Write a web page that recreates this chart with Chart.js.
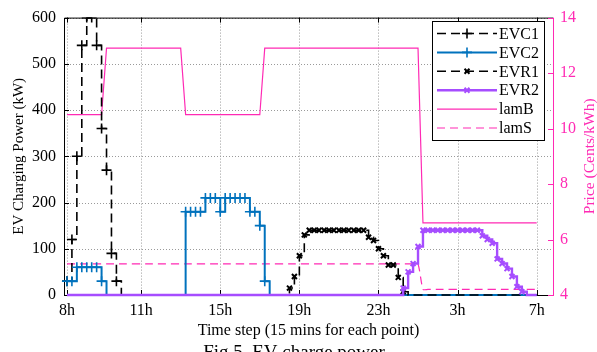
<!DOCTYPE html>
<html>
<head>
<meta charset="utf-8">
<script src="https://cdn.jsdelivr.net/npm/chart.js@4.4.1/dist/chart.umd.min.js"></script>
<style>
    html, body { margin: 0; padding: 0; background: #fff; }
    canvas { display: block; }
</style>
</head>
<body>
<canvas id="chart-ev" width="597" height="352"></canvas>
<script>
// time step index (15 mins each), 1 = 8h
const steps = Array.from({ length: 96 }, (_, i) => i + 1);
const tickSteps = [1, 16, 32, 48, 64, 80, 96];
const tickLabels = ["8h", "11h", "15h", "19h", "23h", "3h", "7h"];

// EV charging power (kW)
const evc1 = [
    30, 120, 300, 540, 600, 600, 540, 360, 270, 90, 30, 0, 0, 0, 0, 0,
    0, 0, 0, 0, 0, 0, 0, 0, 0, 0, 0, 0, 0, 0, 0, 0,
    0, 0, 0, 0, 0, 0, 0, 0, 0, 0, 0, 0, 0, 0, 0, 0,
    0, 0, 0, 0, 0, 0, 0, 0, 0, 0, 0, 0, 0, 0, 0, 0,
    0, 0, 0, 0, 0, 0, 0, 0, 0, 0, 0, 0, 0, 0, 0, 0,
    0, 0, 0, 0, 0, 0, 0, 0, 0, 0, 0, 0, 0, 0, 0, 0,
];
const evc2 = [
    30, 30, 60, 60, 60, 60, 60, 30, 0, 0, 0, 0, 0, 0, 0, 0,
    0, 0, 0, 0, 0, 0, 0, 0, 180, 180, 180, 180, 210, 210, 210, 180,
    210, 210, 210, 210, 210, 180, 180, 150, 30, 0, 0, 0, 0, 0, 0, 0,
    0, 0, 0, 0, 0, 0, 0, 0, 0, 0, 0, 0, 0, 0, 0, 0,
    0, 0, 0, 0, 0, 0, 0, 0, 0, 0, 0, 0, 0, 0, 0, 0,
    0, 0, 0, 0, 0, 0, 0, 0, 0, 0, 0, 0, 0, 0, 0, 0,
];
const evr1 = [
    0, 0, 0, 0, 0, 0, 0, 0, 0, 0, 0, 0, 0, 0, 0, 0,
    0, 0, 0, 0, 0, 0, 0, 0, 0, 0, 0, 0, 0, 0, 0, 0,
    0, 0, 0, 0, 0, 0, 0, 0, 0, 0, 0, 0, 0, 15, 40, 85,
    130, 140, 140, 140, 140, 140, 140, 140, 140, 140, 140, 140, 140, 125, 118, 100,
    85, 65, 65, 38, 7, 0, 0, 0, 0, 0, 0, 0, 0, 0, 0, 0,
    0, 0, 0, 0, 0, 0, 0, 0, 0, 0, 0, 0, 0, 0, 0, 0,
];
const evr2 = [
    0, 0, 0, 0, 0, 0, 0, 0, 0, 0, 0, 0, 0, 0, 0, 0,
    0, 0, 0, 0, 0, 0, 0, 0, 0, 0, 0, 0, 0, 0, 0, 0,
    0, 0, 0, 0, 0, 0, 0, 0, 0, 0, 0, 0, 0, 0, 0, 0,
    0, 0, 0, 0, 0, 0, 0, 0, 0, 0, 0, 0, 0, 0, 0, 0,
    0, 0, 0, 0, 15, 50, 68, 105, 140, 140, 140, 140, 140, 140, 140, 140,
    140, 140, 140, 140, 128, 120, 112, 78, 68, 57, 40, 18, 7, 0, 0, 0,
];

// prices (Cents/kWh)
const lamB = [
    10.5, 10.5, 10.5, 10.5, 10.5, 10.5, 10.5, 10.5, 12.9, 12.9, 12.9, 12.9, 12.9, 12.9, 12.9, 12.9,
    12.9, 12.9, 12.9, 12.9, 12.9, 12.9, 12.9, 12.9, 10.5, 10.5, 10.5, 10.5, 10.5, 10.5, 10.5, 10.5,
    10.5, 10.5, 10.5, 10.5, 10.5, 10.5, 10.5, 10.5, 12.9, 12.9, 12.9, 12.9, 12.9, 12.9, 12.9, 12.9,
    12.9, 12.9, 12.9, 12.9, 12.9, 12.9, 12.9, 12.9, 12.9, 12.9, 12.9, 12.9, 12.9, 12.9, 12.9, 12.9,
    12.9, 12.9, 12.9, 12.9, 12.9, 12.9, 12.9, 12.9, 6.6, 6.6, 6.6, 6.6, 6.6, 6.6, 6.6, 6.6,
    6.6, 6.6, 6.6, 6.6, 6.6, 6.6, 6.6, 6.6, 6.6, 6.6, 6.6, 6.6, 6.6, 6.6, 6.6, 6.6,
];
const lamS = [
    5.12, 5.12, 5.12, 5.12, 5.12, 5.12, 5.12, 5.12, 5.12, 5.12, 5.12, 5.12, 5.12, 5.12, 5.12, 5.12,
    5.12, 5.12, 5.12, 5.12, 5.12, 5.12, 5.12, 5.12, 5.12, 5.12, 5.12, 5.12, 5.12, 5.12, 5.12, 5.12,
    5.12, 5.12, 5.12, 5.12, 5.12, 5.12, 5.12, 5.12, 5.12, 5.12, 5.12, 5.12, 5.12, 5.12, 5.12, 5.12,
    5.12, 5.12, 5.12, 5.12, 5.12, 5.12, 5.12, 5.12, 5.12, 5.12, 5.12, 5.12, 5.12, 5.12, 5.12, 5.12,
    5.12, 5.12, 5.12, 5.12, 5.12, 5.12, 5.12, 5.12, 4.2, 4.2, 4.2, 4.2, 4.2, 4.2, 4.2, 4.2,
    4.2, 4.2, 4.2, 4.2, 4.2, 4.2, 4.2, 4.2, 4.2, 4.2, 4.2, 4.2, 4.2, 4.2, 4.2, 4.2,
];

const PINK = "#ff2ab4";
const BLUE = "#0072bd";
const PURPLE = "#a64dff";
const FONT = "Liberation Serif";

Chart.defaults.font.family = FONT;
Chart.defaults.font.size = 16;
Chart.defaults.color = "#000";

const toPoints = (values) => values.map((v, i) => ({ x: steps[i], y: v }));
// no markers on the zero baseline
const markerOnly = (r) => (c) => (c.raw && c.raw.y !== 0 ? r : 0);
const clipBox = { left: 4, top: 0, right: 4, bottom: 4 };
const noGrid = { display: false, drawTicks: false };

const frame = {
    id: "frame",
    beforeDatasetsDraw(chart) {
        const { ctx, chartArea: a, scales } = chart;
        const { x, y, y2 } = scales;
        ctx.save();
        // dotted grid
        ctx.strokeStyle = "#9a9a9a";
        ctx.lineWidth = 1;
        ctx.setLineDash([1, 2]);
        ctx.beginPath();
        tickSteps.forEach((v) => {
            const px = Math.round(x.getPixelForValue(v)) + 0.5;
            ctx.moveTo(px, a.top);
            ctx.lineTo(px, a.bottom);
        });
        y.ticks.forEach((t) => {
            const py = Math.round(y.getPixelForValue(t.value)) + 0.5;
            ctx.moveTo(a.left, py);
            ctx.lineTo(a.right, py);
        });
        ctx.stroke();
        ctx.setLineDash([]);

        // box
        ctx.strokeStyle = "#000";
        ctx.beginPath();
        ctx.moveTo(a.right, a.top + 0.5);
        ctx.lineTo(a.left + 0.5, a.top + 0.5);
        ctx.lineTo(a.left + 0.5, a.bottom + 0.5);
        ctx.lineTo(a.right, a.bottom + 0.5);
        // inward ticks
        y.ticks.forEach((t) => {
            const py = Math.round(y.getPixelForValue(t.value)) + 0.5;
            ctx.moveTo(a.left, py);
            ctx.lineTo(a.left + 5, py);
        });
        tickSteps.forEach((v) => {
            const px = Math.round(x.getPixelForValue(v)) + 0.5;
            ctx.moveTo(px, a.bottom);
            ctx.lineTo(px, a.bottom - 5);
            ctx.moveTo(px, a.top);
            ctx.lineTo(px, a.top + 5);
        });
        ctx.stroke();

        ctx.strokeStyle = PINK;
        ctx.beginPath();
        ctx.moveTo(a.right + 0.5, a.top);
        ctx.lineTo(a.right + 0.5, a.bottom + 1);
        y2.ticks.forEach((t) => {
            const py = Math.round(y2.getPixelForValue(t.value)) + 0.5;
            ctx.moveTo(a.right, py);
            ctx.lineTo(a.right - 5, py);
        });
        ctx.stroke();
        ctx.restore();
    },
    afterDraw(chart) {
        const { ctx, chartArea: a } = chart;
        ctx.save();
        ctx.textAlign = "center";
        ctx.textBaseline = "middle";

        ctx.font = "15px " + FONT;
        ctx.fillStyle = "#000";
        ctx.save();
        ctx.translate(19, (a.top + a.bottom) / 2);
        ctx.rotate(-Math.PI / 2);
        ctx.fillText("EV Charging Power (kW)", 0, 0);
        ctx.restore();

        ctx.font = "15.5px " + FONT;
        ctx.fillStyle = PINK;
        ctx.save();
        ctx.translate(590, (a.top + a.bottom) / 2);
        ctx.rotate(-Math.PI / 2);
        ctx.fillText("Price (Cents/kWh)", 0, 0);
        ctx.restore();

        ctx.font = "16px " + FONT;
        ctx.fillStyle = "#000";
        ctx.fillText("Time step (15 mins for each point)", (a.left + a.right) / 2, 331);
        ctx.font = "19px " + FONT;
        ctx.fillText("Fig 5. EV charge power", 294, 353);

        // legend
        const lx = 432.5, ly = 21.5, lw = 112, lh = 119;
        ctx.fillStyle = "#fff";
        ctx.fillRect(lx, ly, lw, lh);
        ctx.strokeStyle = "#000";
        ctx.lineWidth = 1;
        ctx.strokeRect(lx, ly, lw, lh);
        ctx.font = "16px " + FONT;
        ctx.textAlign = "left";
        chart.data.datasets.forEach((ds, k) => {
            const ry = 33.5 + k * 18.9;
            ctx.save();
            ctx.strokeStyle = ds.borderColor;
            ctx.fillStyle = ds.borderColor;
            ctx.lineWidth = ds.borderWidth;
            ctx.setLineDash(ds.borderDash || []);
            ctx.beginPath();
            ctx.moveTo(437, ry);
            ctx.lineTo(497, ry);
            ctx.stroke();
            ctx.setLineDash([]);
            if (ds.legendMarker) {
                ctx.lineWidth = ds.pointBorderWidth;
                Chart.helpers.drawPoint(ctx, {
                    pointStyle: ds.pointStyle,
                    radius: ds.legendMarker,
                    borderWidth: ds.pointBorderWidth,
                    rotation: 0,
                }, 467, ry);
            }
            ctx.restore();
            ctx.fillStyle = "#000";
            ctx.fillText(ds.label, 499, ry + 1);
        });
        ctx.restore();
    },
};

new Chart(document.getElementById("chart-ev"), {
    type: "line",
    data: {
        datasets: [
            {
                label: "EVC1",
                data: toPoints(evc1),
                yAxisID: "y",
                borderColor: "#000",
                backgroundColor: "#000",
                borderWidth: 1.6,
                borderDash: [9, 5],
                stepped: true,
                pointStyle: "cross",
                pointRadius: markerOnly(5),
                pointBorderWidth: 1.6,
                legendMarker: 5,
                clip: clipBox,
                order: 3,
            },
            {
                label: "EVC2",
                data: toPoints(evc2),
                yAxisID: "y",
                borderColor: BLUE,
                backgroundColor: BLUE,
                borderWidth: 2,
                stepped: true,
                pointStyle: "cross",
                pointRadius: markerOnly(5),
                pointBorderWidth: 1.6,
                legendMarker: 5,
                clip: clipBox,
                order: 2,
            },
            {
                label: "EVR1",
                data: toPoints(evr1),
                yAxisID: "y",
                borderColor: "#000",
                backgroundColor: "#000",
                borderWidth: 1.6,
                borderDash: [9, 5],
                stepped: true,
                pointStyle: "crossRot",
                pointRadius: markerOnly(3.5),
                pointBorderWidth: 2,
                legendMarker: 3.5,
                clip: clipBox,
                order: 1,
            },
            {
                label: "EVR2",
                data: toPoints(evr2),
                yAxisID: "y",
                borderColor: PURPLE,
                backgroundColor: PURPLE,
                borderWidth: 2.4,
                stepped: true,
                pointStyle: "crossRot",
                pointRadius: markerOnly(3.5),
                pointBorderWidth: 2,
                legendMarker: 3.5,
                clip: clipBox,
                order: 0,
            },
            {
                label: "lamB",
                data: toPoints(lamB),
                yAxisID: "y2",
                borderColor: PINK,
                borderWidth: 1.2,
                pointRadius: 0,
                tension: 0,
                order: 5,
            },
            {
                label: "lamS",
                data: toPoints(lamS),
                yAxisID: "y2",
                borderColor: PINK,
                borderWidth: 1.2,
                borderDash: [8, 5],
                pointRadius: 0,
                tension: 0.2,
                order: 4,
            },
        ],
    },
    options: {
        responsive: false,
        animation: false,
        events: [],
        layout: { autoPadding: false, padding: { top: 13, left: 0, right: 0, bottom: 0 } },
        plugins: { legend: { display: false }, tooltip: { enabled: false } },
        scales: {
            x: {
                type: "linear",
                min: 0.4,
                max: 99.3,
                grid: noGrid,
                border: { display: false },
                afterBuildTicks: (s) => { s.ticks = tickSteps.map((v) => ({ value: v })); },
                afterFit: (s) => { s.height = 57; },
                ticks: {
                    autoSkip: false,
                    maxRotation: 0,
                    padding: 6,
                    callback: (v, i) => tickLabels[i],
                },
            },
            y: {
                position: "left",
                min: 0,
                max: 600,
                grid: noGrid,
                border: { display: false },
                afterFit: (s) => { s.width = 64; },
                ticks: { stepSize: 100, padding: 8 },
            },
            y2: {
                position: "right",
                min: 4,
                max: 14,
                grid: noGrid,
                border: { display: false },
                afterFit: (s) => { s.width = 44; },
                ticks: { stepSize: 2, padding: 7, color: PINK },
            },
        },
    },
    plugins: [frame],
});
</script>
</body>
</html>
